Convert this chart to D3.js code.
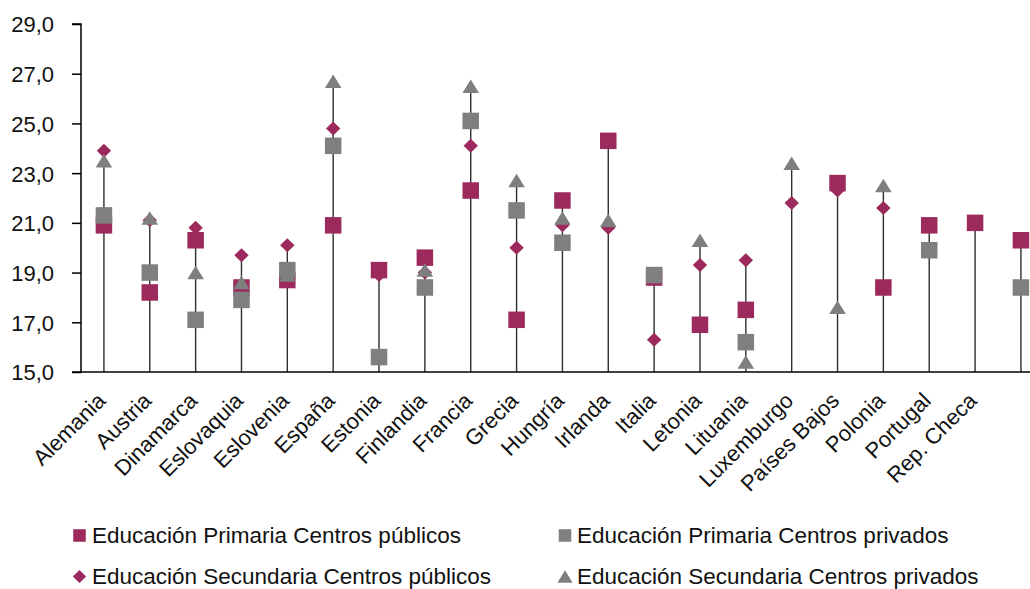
<!DOCTYPE html>
<html>
<head>
<meta charset="utf-8">
<script src="https://cdn.jsdelivr.net/npm/d3@7"></script>
<style>
  html, body { margin: 0; padding: 0; background: #fff; }
  svg { display: block; font-family: "Liberation Sans", Arial, sans-serif; }
</style>
</head>
<body>
<svg id="chart" width="1030" height="589"></svg>
<script>
const categories = ["Alemania","Austria","Dinamarca","Eslovaquia","Eslovenia","España","Estonia","Finlandia","Francia","Grecia","Hungría","Irlanda","Italia","Letonia","Lituania","Luxemburgo","Países Bajos","Polonia","Portugal","Rep. Checa",""];
const primariaPublicos  = [20.9, 18.2, 20.3, 18.4, 18.7, 20.9, 19.1, 19.6, 22.3, 17.1, 21.9, 24.3, 18.8, 16.9, 17.5, null, 22.6, 18.4, 20.9, 21.0, 20.3];
const primariaPrivados  = [21.3, 19.0, 17.1, 17.9, 19.1, 24.1, 15.6, 18.4, 25.1, 21.5, 20.2, null, 18.9, null, 16.2, null, null, null, 19.9, null, 18.4];
const secundariaPublicos = [23.9, 21.1, 20.8, 19.7, 20.1, 24.8, 18.9, 19.0, 24.1, 20.0, 20.9, 20.8, 16.3, 19.3, 19.5, 21.8, 22.3, 21.6, null, null, null];
const secundariaPrivados = [23.5, 21.2, 19.0, 18.6, 18.9, 26.7, null, 19.1, 26.5, 22.7, 21.2, 21.1, null, 20.3, 15.4, 23.4, 17.6, 22.5, null, null, null];
const yTicks = [15, 17, 19, 21, 23, 25, 27, 29];
const seriesNames = ["Educación Primaria Centros públicos","Educación Primaria Centros privados","Educación Secundaria Centros públicos","Educación Secundaria Centros privados"];

const MAGENTA = "#9c2a5c", GRAY = "#7f7f7f";
const FONT = "22.5px";
const series = [
  {name: seriesNames[0], values: primariaPublicos, color: MAGENTA, shape: "square"},
  {name: seriesNames[1], values: primariaPrivados, color: GRAY, shape: "square"},
  {name: seriesNames[2], values: secundariaPublicos, color: MAGENTA, shape: "diamond"},
  {name: seriesNames[3], values: secundariaPrivados, color: GRAY, shape: "triangle"}
];

const svg = d3.select("#chart");
const mLeft = 81, mBottom = 372, mTop = 24;
const step = 45.85;
const x = d3.scaleBand().domain(d3.range(categories.length)).range([mLeft, mLeft + step * categories.length]).padding(0);
const y = d3.scaleLinear().domain([15, 29]).range([mBottom, mTop]);
const cx = i => x(i) + x.bandwidth() / 2;

// drop lines
const maxes = categories.map((c, i) => d3.max(series, s => s.values[i]));
svg.append("g").selectAll("line").data(maxes).join("line")
  .attr("x1", (d, i) => cx(i)).attr("x2", (d, i) => cx(i))
  .attr("y1", d => y(d)).attr("y2", y(15))
  .attr("stroke", "#2e2e2e").attr("stroke-width", 1.4);

// y axis
const yAxis = d3.axisLeft(y).tickValues(yTicks).tickSize(9).tickPadding(18)
  .tickFormat(d => d3.format(".1f")(d).replace(".", ","));
const ya = svg.append("g").attr("transform", `translate(${mLeft},0)`).call(yAxis);
ya.select(".domain").attr("stroke", "#000").attr("stroke-width", 1.5).attr("d", `M-9,${mTop}H0V${mBottom}H-9`);
ya.selectAll(".tick line").attr("stroke", "#000").attr("stroke-width", 1.5);
ya.selectAll(".tick text").attr("fill", "#111").style("font-size", "22px").attr("dy", "0.36em");

// x axis
const xAxis = d3.axisBottom(x).tickSize(0).tickFormat(i => categories[i]);
const xa = svg.append("g").attr("transform", `translate(0,${mBottom})`).call(xAxis);
xa.select(".domain").attr("stroke", "#000").attr("stroke-width", 1.5).attr("d", `M${mLeft},0H1030`);
xa.selectAll(".tick text")
  .attr("fill", "#111").style("font-size", "22px")
  .attr("text-anchor", "end").attr("y", 0).attr("dy", 0)
  .attr("transform", "translate(3,30) rotate(-45)");

// markers
function drawMarker(g, shape, color, px, py, scale) {
  scale = scale || 1;
  if (shape === "square") {
    const s = 16.5 * scale;
    g.append("rect").attr("x", px - s / 2).attr("y", py - s / 2).attr("width", s).attr("height", s).attr("fill", color);
  } else if (shape === "diamond") {
    const w = 7.2 * scale, h = 7 * scale;
    g.append("path").attr("d", `M${px},${py - h}L${px + w},${py}L${px},${py + h}L${px - w},${py}Z`).attr("fill", color);
  } else {
    const w = 8.3 * scale, h = 13.5 * scale;
    g.append("path").attr("d", `M${px},${py - h / 2}L${px + w},${py + h / 2}L${px - w},${py + h / 2}Z`).attr("fill", color);
  }
}
const mg = svg.append("g");
series.forEach(s => {
  s.values.forEach((v, i) => {
    if (v == null) return;
    drawMarker(mg, s.shape, s.color, cx(i), y(v));
  });
});

// legend
const legendPos = [
  {mx: 79.5, tx: 92, by: 543},
  {mx: 565, tx: 577, by: 543},
  {mx: 79.5, tx: 92, by: 584},
  {mx: 565, tx: 577, by: 584}
];
const lg = svg.append("g");
series.forEach((s, k) => {
  const p = legendPos[k];
  drawMarker(lg, s.shape, s.color, p.mx, p.by - 7.5, s.shape === "square" ? 0.76 : 0.92);
  lg.append("text").attr("x", p.tx).attr("y", p.by).attr("fill", "#111").style("font-size", FONT).text(s.name);
});
</script>
</body>
</html>
